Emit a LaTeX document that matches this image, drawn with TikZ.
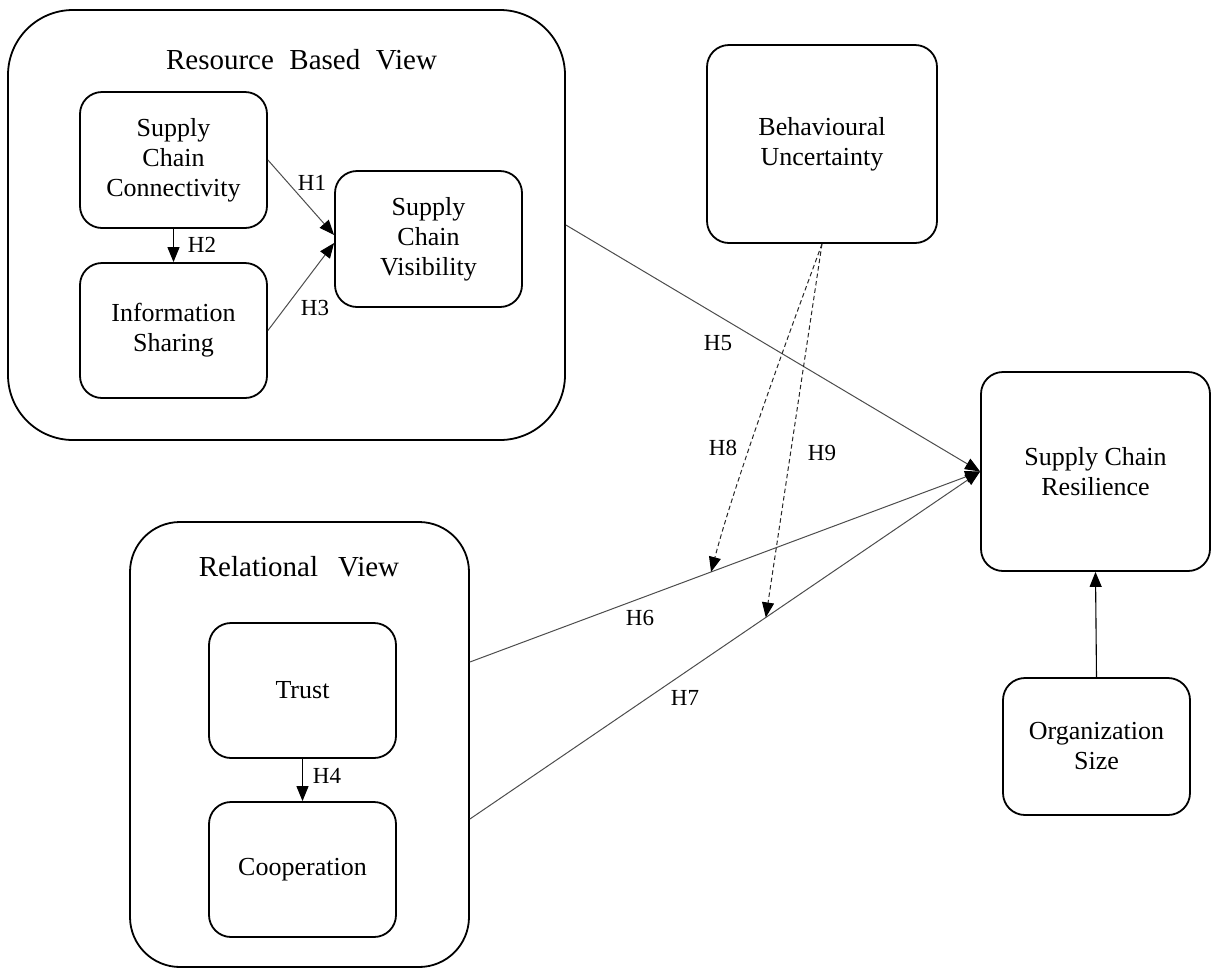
\documentclass[tikz,border=0pt]{standalone}
\usepackage{fontspec}
\setmainfont{Liberation Serif}
\usetikzlibrary{arrows.meta,calc}
\newcommand\bodyfont{\fontsize{26}{30}\selectfont}
\newcommand\ttlfont{\fontsize{29}{34}\selectfont}
\newcommand\labfont{\fontsize{23}{26}\selectfont}
\tikzset{
  box/.style={draw, line width=1.8pt, rounded corners=22pt, align=center, inner sep=0pt, font=\bodyfont},
  viewbox/.style={draw, line width=1.8pt, inner sep=0pt},
  ttl/.style={font=\ttlfont, inner sep=0pt},
  lab/.style={font=\labfont, inner sep=0pt},
  tip/.style={-{Triangle[length=15pt,width=12pt,color=black]}},
  conn/.style={tip, draw=black!70, line width=1pt},
  connk/.style={tip, draw=black, line width=1.1pt},
  dsh/.style={tip, draw=black!85, line width=1pt, dash pattern=on 4.5pt off 3pt}
}
\begin{document}
\begin{tikzpicture}[x=1pt,y=-1pt]
\useasboundingbox (0,0) rectangle (1211,970);
% outer views
\node[viewbox, rounded corners=65pt, minimum width=557pt, minimum height=430pt] (rbv) at (286.5,225) {};
\node[ttl] (rbvt) at (301.5,60) {Resource\hspace{15.5pt}Based\hspace{15.5pt}View};
\node[viewbox, rounded corners=50pt, minimum width=339pt, minimum height=445pt] (rv) at (299.5,744.5) {};
\node[ttl] (rvt) at (299,567) {Relational\hspace{20pt}View};
% boxes
\node[box, minimum width=187pt, minimum height=136pt] (scc) at (173.5,160) {Supply\\Chain\\Connectivity};
\node[box, minimum width=187pt, minimum height=135pt] (is) at (173.5,330.5) {Information\\Sharing};
\node[box, minimum width=187pt, minimum height=136pt] (scv) at (428.5,239) {Supply\\Chain\\Visibility};
\node[box, minimum width=230pt, minimum height=198pt] (bu) at (822,144) {Behavioural\\Uncertainty};
\node[box, minimum width=229pt, minimum height=199pt] (scr) at (1095.5,471.5) {Supply Chain\\Resilience};
\node[box, minimum width=187pt, minimum height=137pt] (os) at (1096.5,746.5) {Organization\\Size};
\node[box, minimum width=187pt, minimum height=135pt] (trust) at (302.5,690.5) {Trust};
\node[box, minimum width=187pt, minimum height=135pt] (coop) at (302.5,869.5) {Cooperation};
% connectors inside views
\draw[conn] (scc.east) -- ([yshift=4pt]scv.west);
\draw[conn] (is.east) -- ([yshift=-4pt]scv.west);
\draw[connk] (scc.south) -- (is.north);
\draw[connk] (trust.south) -- (coop.north);
\draw[connk] (os.north) -- (scr.south);
% main connectors
\coordinate (h6s) at ([yshift=82.5pt]rv.east);
\coordinate (h7s) at ([yshift=-74.5pt]rv.east);
\draw[conn] (rbv.east) -- (scr.west);
\draw[conn] (h6s) -- (scr.west);
\draw[conn] (h7s) -- (scr.west);
\coordinate (m6) at ($(h6s)!0.4727!(scr.west)$);
\coordinate (m7) at ($(h7s)!0.58!(scr.west)$);
\draw[dsh] (bu.south) .. controls +(-32,87) and +(24,-91) .. (m6);
\draw[dsh] (bu.south) -- (m7);
% labels
\node[lab] (l1) at (312,183) {H1};
\node[lab] (l2) at (202,245) {H2};
\node[lab] (l3) at (315,308) {H3};
\node[lab] (l4) at (327,776) {H4};
\node[lab] (l5) at (718,343) {H5};
\node[lab] (l6) at (640,618) {H6};
\node[lab] (l7) at (685,698) {H7};
\node[lab] (l8) at (723,448) {H8};
\node[lab] (l9) at (822,453) {H9};
\end{tikzpicture}
\end{document}
